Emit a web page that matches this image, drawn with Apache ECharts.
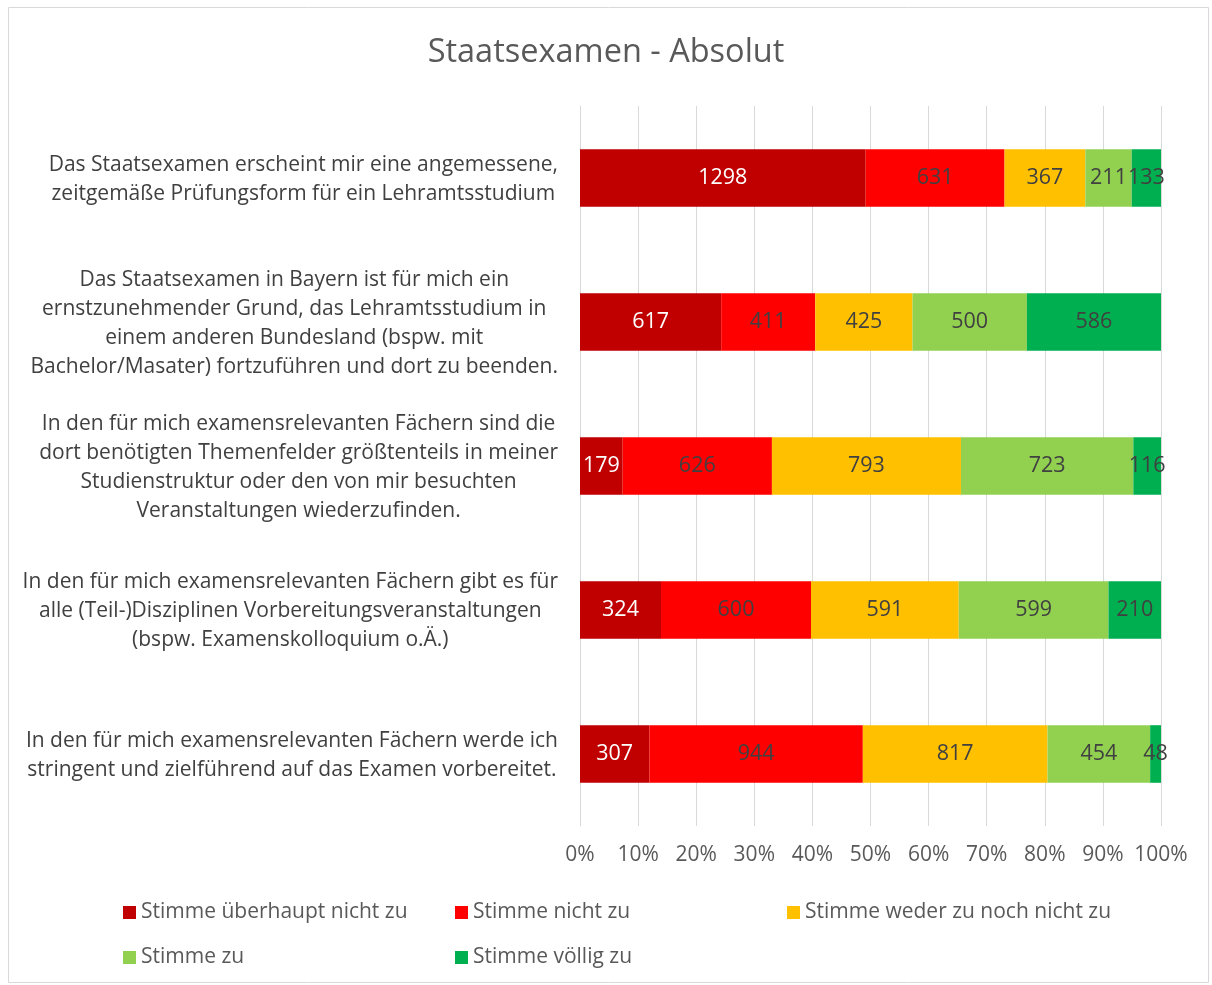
<!DOCTYPE html>
<html>
<head>
<meta charset="utf-8">
<script src="https://cdn.jsdelivr.net/npm/echarts@6/dist/echarts.min.js"></script>
<style>
  html, body { margin: 0; padding: 0; background: #fff; }
  #main { width: 1212px; height: 985px; }
</style>
</head>
<body>
<div id="main"></div>
<script>
// Fragen (von oben nach unten)
var categories = [
    'Das Staatsexamen erscheint mir eine angemessene,\nzeitgemäße Prüfungsform für ein Lehramtsstudium',
    'Das Staatsexamen in Bayern ist für mich ein\nernstzunehmender Grund, das Lehramtsstudium in\neinem anderen Bundesland (bspw. mit\nBachelor/Masater) fortzuführen und dort zu beenden.',
    'In den für mich examensrelevanten Fächern sind die\ndort benötigten Themenfelder größtenteils in meiner\nStudienstruktur oder den von mir besuchten\nVeranstaltungen wiederzufinden.',
    'In den für mich examensrelevanten Fächern gibt es für\nalle (Teil-)Disziplinen Vorbereitungsveranstaltungen\n(bspw. Examenskolloquium o.Ä.)',
    'In den für mich examensrelevanten Fächern werde ich\nstringent und zielführend auf das Examen vorbereitet.'
];

var seriesNames = ['Stimme überhaupt nicht zu', 'Stimme nicht zu', 'Stimme weder zu noch nicht zu', 'Stimme zu', 'Stimme völlig zu'];
var seriesColors = ['#C00000', '#FF0000', '#FFC000', '#92D050', '#00B050'];
var labelColors = ['#FFFFFF', '#404040', '#404040', '#404040', '#404040'];

// absolute Werte je Antwort
var ueberhauptNicht = [1298, 617, 179, 324, 307];
var nicht = [631, 411, 626, 600, 944];
var weder = [367, 425, 793, 591, 817];
var zu = [211, 500, 723, 599, 454];
var voellig = [133, 586, 116, 210, 48];

var tickLabels = ['0%', '10%', '20%', '30%', '40%', '50%', '60%', '70%', '80%', '90%', '100%'];

var allValues = [ueberhauptNicht, nicht, weder, zu, voellig];

var totals = categories.map(function (c, i) {
    var s = 0;
    allValues.forEach(function (arr) { s += arr[i]; });
    return s;
});

var font = '"Open Sans", Lato, sans-serif';

var series = allValues.map(function (arr, k) {
    return {
        name: seriesNames[k],
        type: 'bar',
        stack: 'total',
        barWidth: '40%',
        itemStyle: { color: seriesColors[k] },
        label: {
            show: true,
            position: 'inside',
            color: labelColors[k],
            fontSize: 21.5,
            fontFamily: font,
            formatter: function (p) { return p.data.raw; }
        },
        emphasis: { disabled: true },
        data: arr.map(function (v, i) {
            return { value: v / totals[i] * 100, raw: v };
        })
    };
});

// Legende in Spalten wie im Original
var legendPos = [[118, 897], [450, 897], [782, 897], [118, 942], [450, 942]];
var legends = seriesNames.map(function (n, k) {
    return {
        data: [n],
        left: legendPos[k][0],
        top: legendPos[k][1],
        itemWidth: 13,
        itemHeight: 13,
        icon: 'rect',
        itemGap: 0,
        selectedMode: false,
        textStyle: { fontSize: 21, color: '#595959', fontFamily: font }
    };
});

var myChart = echarts.init(document.getElementById('main'));
var option = {
    animation: false,
    backgroundColor: '#fff',
    title: {
        text: 'Staatsexamen - Absolut',
        left: 'center',
        top: 31,
        textStyle: { fontSize: 32.5, fontWeight: 'normal', color: '#595959', fontFamily: font }
    },
    graphic: [{
        type: 'rect',
        shape: { x: 8.5, y: 7.5, width: 1200, height: 975 },
        style: { fill: 'none', stroke: '#D9D9D9', lineWidth: 1 },
        silent: true
    }],
    legend: legends,
    grid: { left: 580, right: 51, top: 106, bottom: 159 },
    xAxis: {
        type: 'value',
        min: 0,
        max: 100,
        interval: 10,
        axisLine: { show: false },
        axisTick: { show: false },
        splitLine: { lineStyle: { color: '#D9D9D9', width: 1 } },
        axisLabel: {
            fontSize: 21,
            color: '#595959',
            fontFamily: font,
            margin: 19,
            formatter: function (v) { return tickLabels[Math.round(v / 10)]; }
        }
    },
    yAxis: {
        type: 'category',
        inverse: true,
        data: categories,
        axisLine: { show: true, lineStyle: { color: '#D9D9D9' } },
        axisTick: { show: false },
        axisLabel: {
            margin: 22,
            align: 'right',
            fontSize: 21,
            lineHeight: 29,
            padding: [3, 0, 0, 0],
            color: '#404040',
            fontFamily: font,
            formatter: function (v) {
                return v.split('\n').map(function (l) { return '{c|' + l + '}'; }).join('\n');
            },
            rich: {
                c: { align: 'center', fontSize: 21, lineHeight: 29, color: '#404040', fontFamily: font }
            }
        }
    },
    series: series
};
myChart.setOption(option);
</script>
</body>
</html>
